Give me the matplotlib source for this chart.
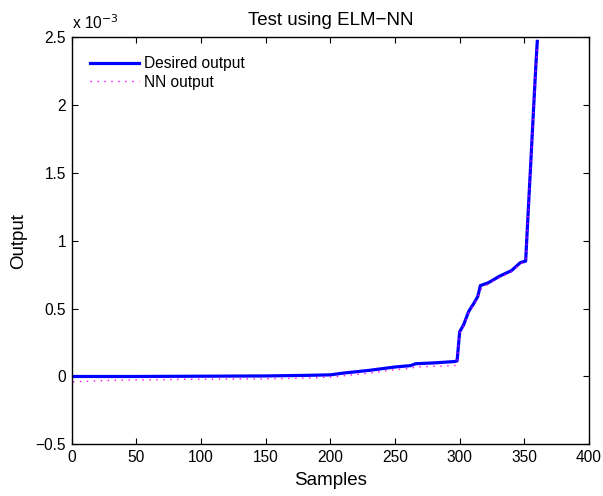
import matplotlib
matplotlib.use("Agg")
import matplotlib.pyplot as plt

# values (output in units of 1e-3)
samples = [1, 25, 50, 100, 150, 180, 200, 210, 230, 250, 262, 266, 280, 296, 298,
           300, 303, 307, 311, 314, 316, 322, 331, 340, 347, 351, 353, 355, 357,
           359, 360]
desired = [0.0, 0.0, 0.0, 0.002, 0.004, 0.008, 0.012, 0.025, 0.045, 0.07, 0.08, 0.094,
           0.10, 0.11, 0.115, 0.33, 0.38, 0.48, 0.54, 0.59, 0.67, 0.69, 0.74, 0.78,
           0.84, 0.85, 1.22, 1.58, 1.95, 2.31, 2.47]
nn_out = [-0.04, -0.03, -0.025, -0.02, -0.017, -0.012, -0.005, 0.005, 0.025, 0.05,
          0.06, 0.07, 0.075, 0.08, 0.09, 0.32, 0.37, 0.47, 0.53, 0.58, 0.64, 0.68,
          0.73, 0.77, 0.83, 0.85, 1.21, 1.57, 1.93, 2.29, 2.45]

xticks = [0, 50, 100, 150, 200, 250, 300, 350, 400]
yticks = [-0.5, 0, 0.5, 1, 1.5, 2, 2.5]
ytick_labels = ["\u22120.5", "0", "0.5", "1", "1.5", "2", "2.5"]

plt.rcParams['font.family'] = ['Liberation Sans', 'DejaVu Sans']

fig = plt.figure(figsize=(6.03, 4.96), dpi=100)
ax = fig.add_axes([0.1189, 0.1042, 0.8579, 0.8206])

ax.plot(samples, desired, color="#0000ff", lw=2.3, label="Desired output")
ax.plot(samples, nn_out, color="#ff00ff", lw=1.0, ls=(0, (1, 4)), label="NN output")

ax.set_xlim(0, 400)
ax.set_ylim(-0.5, 2.5)
ax.set_xticks(xticks)
ax.set_yticks(yticks)
ax.set_yticklabels(ytick_labels)
ax.tick_params(direction="in", top=True, right=True, labelsize=11.2, length=4, pad=4)
for spine in ax.spines.values():
    spine.set_linewidth(1.0)

ax.set_xlabel("Samples", fontsize=13.5, labelpad=5)
ax.set_ylabel("Output", fontsize=13.5, labelpad=6)
ax.set_title("Test using ELM\u2212NN", fontsize=13.5, pad=9)
ax.text(0.0, 1.012, r"x 10$^{-3}$", transform=ax.transAxes, fontsize=11.2,
        ha="left", va="bottom")

ax.legend(loc="upper left", frameon=False, fontsize=11.2, handlelength=3.1,
          handletextpad=0.35, borderaxespad=0.8, labelspacing=0.25)

fig.savefig("out.png", dpi=100)
